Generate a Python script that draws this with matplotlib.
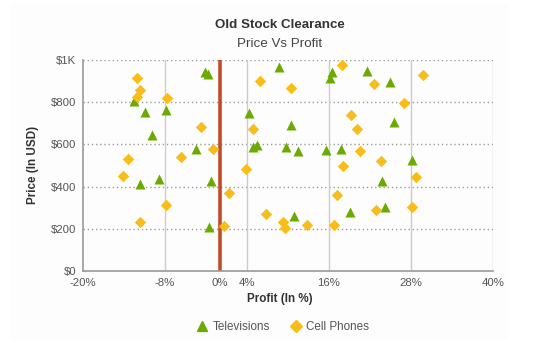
import matplotlib.pyplot as plt
from matplotlib.patches import Rectangle
from matplotlib.lines import Line2D

plt.rcParams["font.family"] = ["Liberation Sans", "DejaVu Sans"]

# data (profit %, price USD)
tv_profit = [-12.6, -10.9, -7.9, -2.2, -1.7, -9.9, -3.4, -11.6, -8.9, -1.2,
             -1.6, 8.7, 16.4, 16.1, 21.5, 4.3, 10.4, 4.9, 5.4, 9.7,
             11.5, 15.6, 17.7, 19.0, 10.9, 24.9, 25.5, 28.1, 23.7, 24.2]
tv_price = [808, 754, 762, 941, 932, 645, 577, 410, 437, 428,
            208, 966, 941, 917, 950, 748, 694, 586, 596, 586,
            569, 575, 580, 280, 260, 898, 705, 528, 428, 304]

phone_profit = [-12.1, -11.7, -12.1, -7.7, -2.8, -1.0, -13.4, -5.7, -14.2, -7.9,
                -11.7, 0.7, 1.3, 17.9, 5.9, 10.4, 4.9, 19.2, 20.1, 20.5,
                18.0, 3.9, 17.1, 6.8, 9.2, 9.6, 12.8, 16.7, 29.8, 22.6,
                27.0, 23.6, 28.7, 22.9, 28.1]
phone_price = [914, 858, 827, 819, 681, 580, 532, 539, 451, 315,
               233, 214, 371, 977, 901, 868, 672, 738, 672, 571,
               497, 483, 358, 269, 230, 204, 219, 216, 930, 887,
               798, 523, 445, 288, 304]

x_ticks = [-20, -8, 0, 4, 16, 28, 40]
x_labels = ["-20%", "-8%", "0%", "4%", "16%", "28%", "40%"]
y_ticks = [0, 200, 400, 600, 800, 1000]
y_labels = ["$0", "$200", "$400", "$600", "$800", "$1K"]
v_lines = [-8, 4, 16, 28, 40]

green = "#6baa01"
yellow = "#f8bd19"

fig = plt.figure(figsize=(5.37, 3.43), dpi=100)
fig.patches.append(Rectangle((10 / 537, 3 / 343), 498 / 537, 337 / 343,
                             transform=fig.transFigure, facecolor="#fdfdfd",
                             edgecolor="none", zorder=-10))
ax = fig.add_axes([83 / 537, 1 - 271 / 343, 410 / 537, 211 / 343])
ax.set_facecolor("none")

ax.set_xlim(-20, 40)
ax.set_ylim(0, 1000)

for y in y_ticks[1:]:
    ax.axhline(y, color="#9a9a9a", lw=1, linestyle=(0, (1, 2)), zorder=1)
for x in v_lines:
    ax.axvline(x, color="#cccccc", lw=1.0, zorder=1)
ax.axvline(0, color="#c44b27", lw=2.6, zorder=2)

ax.scatter(tv_profit, tv_price, marker="^", s=52, color=green, zorder=3,
           linewidths=0)
ax.scatter(phone_profit, phone_price, marker="D", s=34, color=yellow, zorder=3,
           linewidths=0)

ax.set_xticks(x_ticks)
ax.set_xticklabels(x_labels)
ax.set_yticks(y_ticks)
ax.set_yticklabels(y_labels)
ax.tick_params(length=0, labelsize=8.2, colors="#555555")
ax.tick_params(axis="x", pad=5)
ax.tick_params(axis="y", pad=5)

for side in ["top", "right"]:
    ax.spines[side].set_visible(False)
for side in ["left", "bottom"]:
    ax.spines[side].set_color("#999999")
    ax.spines[side].set_linewidth(1.2)

fig.text(280 / 537, 1 - 25 / 343, "Old Stock Clearance", ha="center",
         va="center", fontsize=9.6, fontweight="bold", color="#333333")
fig.text(280 / 537, 1 - 44 / 343, "Price Vs Profit", ha="center",
         va="center", fontsize=9.6, color="#444444")
fig.text(280 / 537, 1 - 299 / 343, "Profit (In %)", ha="center",
         va="center", fontsize=8.4, fontweight="bold", color="#333333")
fig.text(33 / 537, 1 - 165 / 343, "Price (In USD)", ha="center",
         va="center", rotation=90, fontsize=8.4, fontweight="bold",
         color="#333333")

handles = [
    Line2D([], [], marker="^", color=green, linestyle="none", markersize=7),
    Line2D([], [], marker="D", color=yellow, linestyle="none", markersize=6),
]
fig.legend(handles, ["Televisions", "Cell Phones"], loc="center",
           bbox_to_anchor=(282 / 537, 1 - 327 / 343), ncol=2, frameon=False,
           fontsize=8.4, labelcolor="#555555", handletextpad=0.3,
           columnspacing=1.6, handlelength=1.2)

fig.savefig("out.png", dpi=100)
